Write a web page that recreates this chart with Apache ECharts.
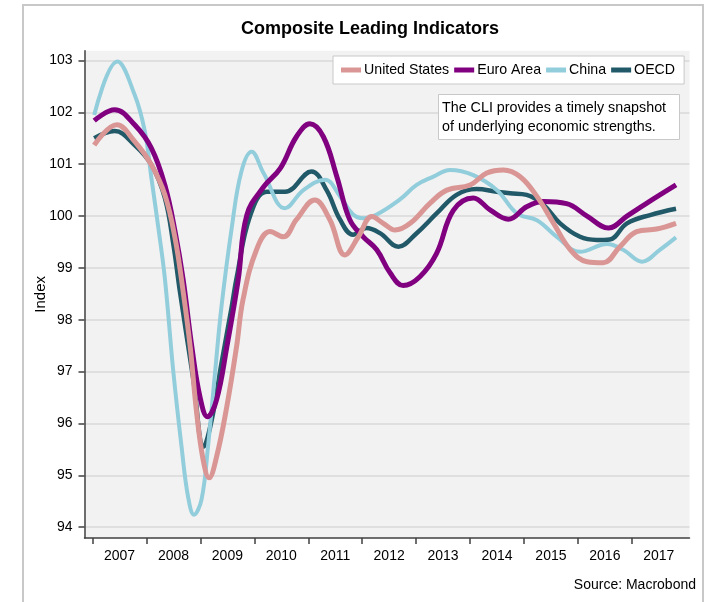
<!DOCTYPE html>
<html>
<head>
<meta charset="utf-8">
<script src="https://cdn.jsdelivr.net/npm/echarts@6/dist/echarts.min.js"></script>
<style>
html,body{margin:0;padding:0;background:#fff;}
#c{width:713px;height:602px;}
</style>
</head>
<body>
<div id="c"></div>
<script>
const FONT = '"Liberation Sans",Arial,sans-serif';

const seriesNames = ['United States', 'Euro Area', 'China', 'OECD'];
const seriesColors = ['#d99694', '#800080', '#92cddc', '#215968'];

const yTicks = [94, 95, 96, 97, 98, 99, 100, 101, 102, 103];
const yearTicks = [2007, 2008, 2009, 2010, 2011, 2012, 2013, 2014, 2015, 2016, 2017];

const usT = [2007.03, 2007.45, 2007.78, 2008.09, 2008.34, 2008.53, 2008.68, 2008.81, 2008.93, 2009.05, 2009.16, 2009.30, 2009.49, 2009.67, 2009.79, 2010.04, 2010.29, 2010.54, 2010.78, 2011.12, 2011.40, 2011.68, 2011.93, 2012.18, 2012.39, 2012.61, 2012.89, 2013.26, 2013.57, 2014.00, 2014.31, 2014.62, 2014.93, 2015.24, 2015.55, 2015.86, 2016.17, 2016.47, 2016.78, 2017.09, 2017.46, 2017.82];
const usV = [101.37, 101.76, 101.44, 100.99, 100.41, 99.57, 98.54, 97.48, 96.2, 95.3, 94.95, 95.36, 96.33, 97.48, 98.39, 99.35, 99.7, 99.6, 99.93, 100.31, 99.93, 99.25, 99.6, 99.99, 99.86, 99.73, 99.86, 100.25, 100.5, 100.6, 100.83, 100.89, 100.76, 100.38, 99.86, 99.35, 99.12, 99.1, 99.41, 99.7, 99.75, 99.86];

const euT = [2007.03, 2007.41, 2007.78, 2008.09, 2008.34, 2008.53, 2008.68, 2008.84, 2008.99, 2009.13, 2009.30, 2009.49, 2009.70, 2009.86, 2010.17, 2010.48, 2010.78, 2011.03, 2011.28, 2011.53, 2011.77, 2012.02, 2012.27, 2012.52, 2012.76, 2013.07, 2013.38, 2013.69, 2014.06, 2014.37, 2014.71, 2015.05, 2015.36, 2015.79, 2016.17, 2016.57, 2016.91, 2017.28, 2017.82];
const euV = [101.84, 102.05, 101.76, 101.31, 100.6, 99.7, 98.77, 97.48, 96.52, 96.13, 96.46, 97.48, 98.77, 100.02, 100.56, 100.92, 101.53, 101.78, 101.53, 100.76, 99.93, 99.6, 99.35, 98.9, 98.66, 98.83, 99.28, 100.11, 100.35, 100.12, 99.94, 100.18, 100.28, 100.24, 100.0, 99.77, 100.0, 100.25, 100.6];

const cnT = [2007.03, 2007.46, 2007.78, 2007.97, 2008.09, 2008.22, 2008.34, 2008.50, 2008.65, 2008.77, 2008.88, 2009.02, 2009.14, 2009.27, 2009.39, 2009.58, 2009.76, 2009.95, 2010.17, 2010.57, 2010.91, 2011.31, 2011.59, 2011.83, 2012.02, 2012.27, 2012.70, 2013.01, 2013.32, 2013.63, 2014.06, 2014.50, 2014.87, 2015.24, 2015.61, 2016.04, 2016.54, 2016.84, 2017.19, 2017.52, 2017.82];
const cnV = [101.95, 102.98, 102.34, 101.63, 100.74, 99.77, 98.8, 96.97, 95.55, 94.59, 94.24, 94.53, 95.55, 96.97, 98.25, 99.77, 100.86, 101.24, 100.83, 100.15, 100.5, 100.7, 100.38, 100.03, 99.96, 100.03, 100.32, 100.6, 100.76, 100.89, 100.79, 100.5, 100.05, 99.92, 99.6, 99.31, 99.46, 99.35, 99.12, 99.35, 99.59];

const oeT = [2007.03, 2007.41, 2007.78, 2008.09, 2008.34, 2008.50, 2008.62, 2008.87, 2009.06, 2009.21, 2009.39, 2009.58, 2009.67, 2009.92, 2010.23, 2010.57, 2011.06, 2011.34, 2011.59, 2011.83, 2012.08, 2012.33, 2012.67, 2013.01, 2013.38, 2013.75, 2014.12, 2014.50, 2014.74, 2015.05, 2015.36, 2015.67, 2016.04, 2016.35, 2016.59, 2016.91, 2017.34, 2017.82];
const oeV = [101.5, 101.64, 101.37, 100.99, 100.35, 99.44, 98.54, 96.84, 95.55, 96.07, 97.16, 98.25, 98.8, 100.0, 100.47, 100.47, 100.86, 100.5, 99.93, 99.64, 99.77, 99.67, 99.41, 99.67, 100.05, 100.41, 100.52, 100.47, 100.44, 100.41, 100.22, 99.86, 99.6, 99.54, 99.55, 99.86, 100.02, 100.14];

const noteLines = ['The CLI provides a timely snapshot', 'of underlying economic strengths.'];

function pairs(t, v) { return t.map((x, i) => [x, v[i]]); }
const allData = [pairs(usT, usV), pairs(euT, euV), pairs(cnT, cnV), pairs(oeT, oeV)];
const widths = [5, 5, 4, 4.5];
const zs = [5, 4, 3, 2];

const chart = echarts.init(document.getElementById('c'), null, {renderer: 'canvas'});
chart.setOption({
  animation: false,
  backgroundColor: '#ffffff',
  title: {
    text: 'Composite Leading Indicators',
    left: 236, top: 15,
    textStyle: {fontFamily: FONT, fontSize: 18, fontWeight: 'bold', color: '#000'}
  },
  legend: {
    left: 333, top: 56,
    padding: [7, 9, 7, 8],
    backgroundColor: '#ffffff',
    borderColor: '#c8c8c8', borderWidth: 1,
    itemWidth: 20, itemHeight: 5, itemGap: 5,
    icon: 'rect',
    data: seriesNames,
    textStyle: {fontFamily: FONT, fontSize: 14.2, color: '#000', padding: [0, 0, 0, -2]}
  },
  grid: {
    left: 84.5, right: 23.5, top: 50.7, bottom: 64,
    show: true, backgroundColor: '#f2f2f2', borderWidth: 0
  },
  xAxis: {
    type: 'value', min: 2006.85, max: 2018.07,
    axisLine: {show: true, onZero: false, lineStyle: {color: '#404040', width: 1.5}},
    axisTick: {show: true, length: 6, customValues: yearTicks, lineStyle: {color: '#404040', width: 1.5}},
    axisLabel: {
      customValues: yearTicks.map(y => y + 0.5),
      formatter: v => String(Math.floor(v)),
      margin: 11, fontFamily: FONT, fontSize: 14, color: '#000'
    },
    splitLine: {show: false}
  },
  yAxis: {
    type: 'value', min: 93.79, max: 103.19,
    name: 'Index', nameLocation: 'middle', nameGap: 36, nameMoveOverlap: false,
    nameTextStyle: {fontFamily: FONT, fontSize: 15, color: '#000'},
    axisLine: {show: true, lineStyle: {color: '#404040', width: 1.5}},
    axisTick: {show: true, length: 6, customValues: yTicks, lineStyle: {color: '#404040', width: 1.5}},
    axisLabel: {customValues: yTicks, margin: 12, fontFamily: FONT, fontSize: 14, color: '#000'},
    splitLine: {show: true, lineStyle: {color: '#d9d9d9', width: 1.5}}
  },
  graphic: [
    {type: 'rect', shape: {x: 23, y: 5, width: 680, height: 640}, style: {fill: 'none', stroke: '#c8c8c8', lineWidth: 2}, z: -10, silent: true},
    {type: 'rect', shape: {x: 438.5, y: 94.5, width: 241, height: 45}, style: {fill: '#ffffff', stroke: '#c8c8c8', lineWidth: 1}, z: 20},
    {type: 'text', x: 442, y: 98, z: 21, style: {text: noteLines.join('\n'), fontFamily: FONT, fontSize: 14.3, lineHeight: 19.5, fill: '#000'}},
    {type: 'text', right: 17, top: 578, z: 21, style: {text: 'Source: Macrobond', fontFamily: FONT, fontSize: 14, fill: '#000'}}
  ],
  series: seriesNames.map((n, i) => ({
    name: n, type: 'line', data: allData[i], z: zs[i],
    smooth: 0.4, showSymbol: false, symbol: 'none',
    color: seriesColors[i],
    lineStyle: {color: seriesColors[i], width: widths[i]}
  }))
});
</script>
</body>
</html>
